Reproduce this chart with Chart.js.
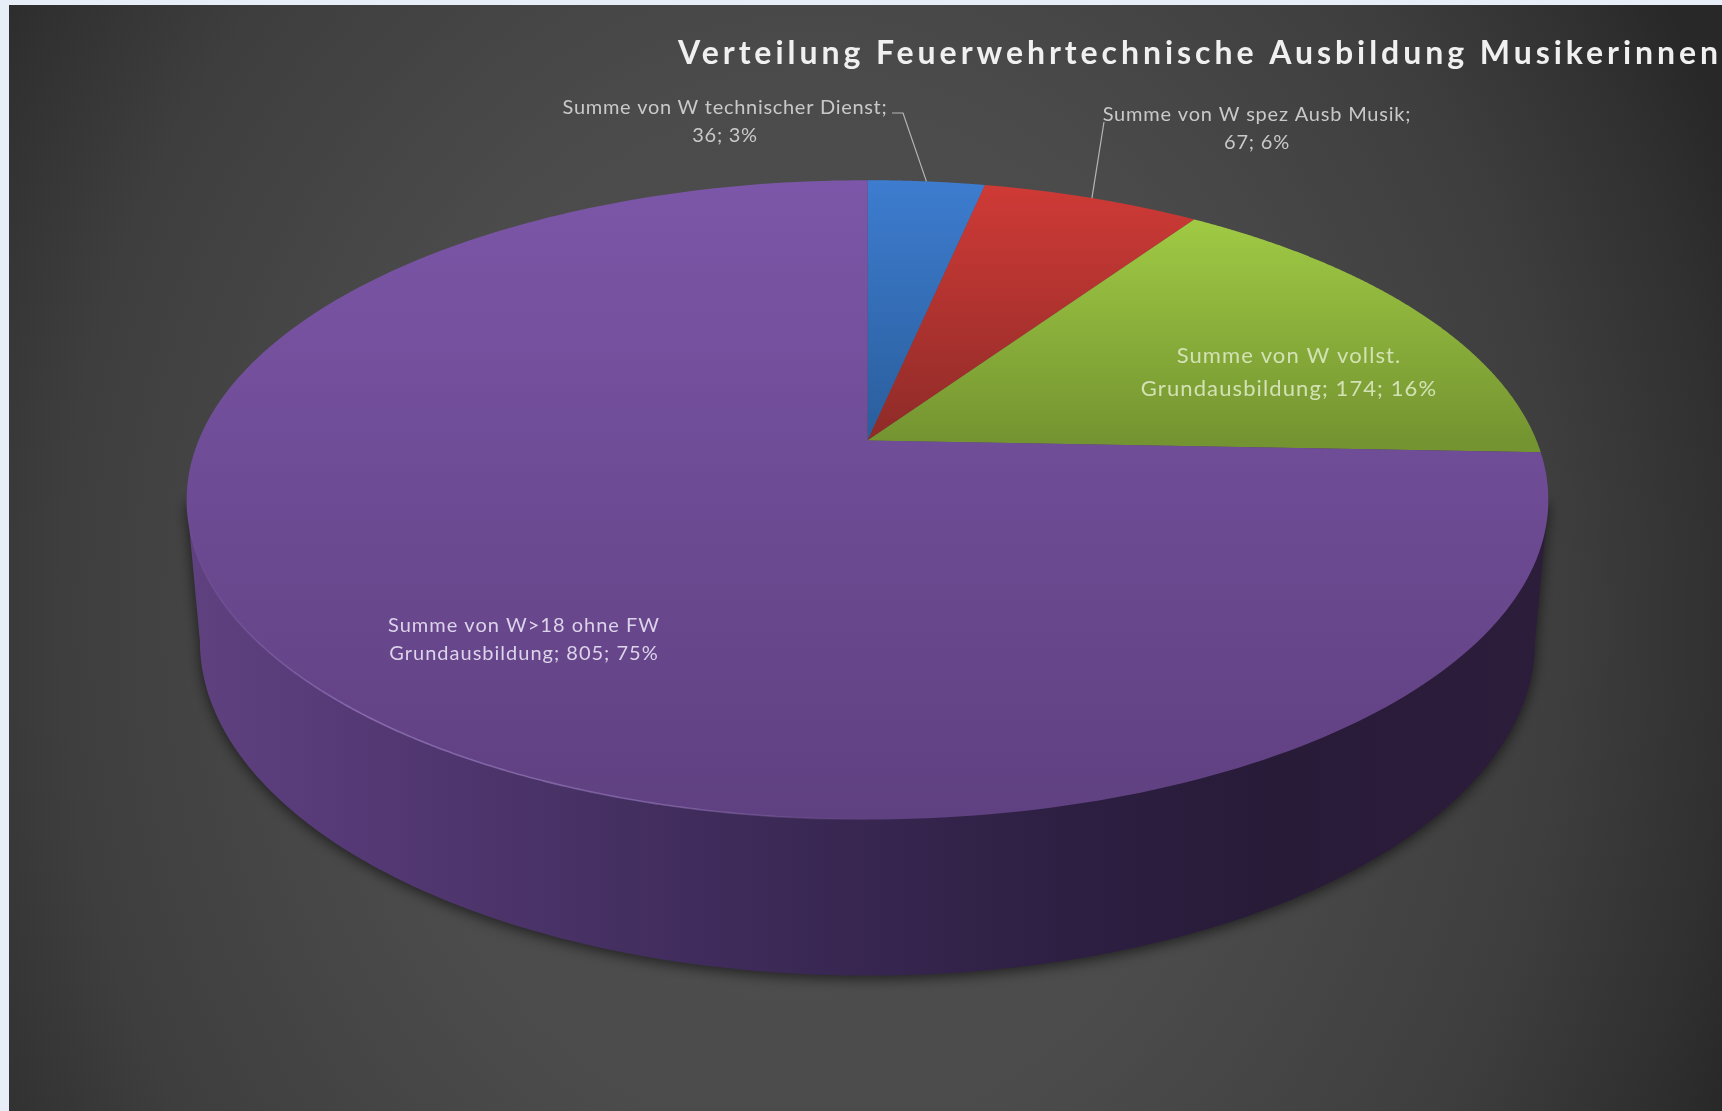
<!DOCTYPE html>
<html lang="de">
<head>
    <meta charset="UTF-8">
    <title>Verteilung Feuerwehrtechnische Ausbildung Musikerinnen</title>
    <style>
        html, body { margin: 0; padding: 0; background: #e8eef8; }
        canvas { display: block; filter: blur(0.6px); }
    </style>
</head>
<body>
    <canvas id="myChart" width="1722" height="1111"></canvas>

    <script src="https://cdn.jsdelivr.net/npm/chart.js@4"></script>
    <script>
const chartTitle = 'Verteilung Feuerwehrtechnische Ausbildung Musikerinnen';
const categories = [
  'Summe von W technischer Dienst',
  'Summe von W spez Ausb Musik',
  'Summe von W vollst. Grundausbildung',
  'Summe von W>18 ohne FW Grundausbildung'
];
const values = [36, 67, 174, 805];
const percents = [3, 6, 16, 75];
const wrapAfter = ['Dienst;', 'Musik;', 'vollst.', 'FW'];

const topColors = ['#3d7ccf', '#cf3a36', '#a0ca44', '#7c56a8'];
const bottomColors = ['#2a5e9c', '#8e2b28', '#749431', '#5f4080'];

// where the label text sits, and the elbow of the leader line if it has one
const labelPlaces = [
  { x: 725, y: 108, gap: 28, size: 20, spacing: 0.7, color: '#c9c9c9', elbow: [[892, 113], [903, 113]] },
  { x: 1257, y: 115, gap: 28, size: 20, spacing: 0.8, color: '#c9c9c9', elbow: [[1104, 122]] },
  { x: 1289, y: 356, gap: 33, size: 22, spacing: 1.1, color: '#d3e2b4' },
  { x: 524, y: 626, gap: 28, size: 20, spacing: 1.0, color: '#dcd4ea' }
];

// view of the tilted pie: a circle seen in perspective
const view = { cx: 867.5, p: 0.1856 };
const topFace = { y0: 440.5, a: 669, b: 308.6 };
const bottomFace = { y0: 579, a: 656, b: 323 };

function project(face, angle) {
  const u = Math.cos(angle), v = Math.sin(angle);
  const w = 1 - view.p * v;
  return [view.cx + face.a * u / w, face.y0 + face.b * v / w];
}

function rimPath(ctx, face, from, to) {
  const steps = 240;
  for (let i = 0; i <= steps; i++) {
    const pt = project(face, from + (to - from) * i / steps);
    ctx.lineTo(pt[0], pt[1]);
  }
}

const tiltedPie = {
  id: 'tiltedPie',
  beforeDraw(chart) {
    const ctx = chart.ctx;
    ctx.save();
    // soft spotlight behind the pie
    ctx.translate(810, 620);
    ctx.scale(1, 1.2);
    const bg = ctx.createRadialGradient(0, 0, 0, 0, 0, 1000);
    bg.addColorStop(0, '#505050');
    bg.addColorStop(0.45, '#4b4b4b');
    bg.addColorStop(0.75, '#3e3e3e');
    bg.addColorStop(0.92, '#303030');
    bg.addColorStop(1, '#282828');
    ctx.fillStyle = bg;
    ctx.fillRect(-900, -700, 1900, 1300);
    ctx.restore();
    ctx.fillStyle = '#e8eef8';
    ctx.fillRect(0, 0, 9, 1111);
    ctx.fillRect(0, 0, 1722, 5);
    ctx.letterSpacing = '3.95px';
  },
  beforeDatasetsDraw(chart) {
    const ctx = chart.ctx;
    ctx.letterSpacing = '0px';
    const arcs = chart.getDatasetMeta(0).data;

    // side wall, from widest point to widest point around the front
    const edge = Math.asin(view.p);
    const wall = ctx.createLinearGradient(190, 0, 1540, 0);
    wall.addColorStop(0, '#5f4180');
    wall.addColorStop(0.1, '#573a78');
    wall.addColorStop(0.25, '#4a3368');
    wall.addColorStop(0.42, '#3d2a58');
    wall.addColorStop(0.65, '#2d1f42');
    wall.addColorStop(0.8, '#281b38');
    wall.addColorStop(1, '#2c1d3b');
    ctx.save();
    ctx.shadowColor = 'rgba(0,0,0,0.6)';
    ctx.shadowBlur = 14;
    ctx.shadowOffsetY = 3;
    ctx.fillStyle = wall;
    ctx.beginPath();
    rimPath(ctx, topFace, Math.PI - edge, Math.PI - edge);
    rimPath(ctx, bottomFace, Math.PI - edge, edge);
    rimPath(ctx, topFace, edge, edge);
    ctx.closePath();
    ctx.fill();
    ctx.restore();

    // top faces, one for each arc of the chart
    arcs.forEach((arc, i) => {
      const isBig = arc.endAngle - arc.startAngle > Math.PI;
      const minY = isBig ? project(topFace, -Math.PI / 2)[1] : Math.min(project(topFace, arc.startAngle)[1], project(topFace, arc.endAngle)[1]);
      const maxY = isBig ? project(topFace, Math.PI / 2)[1] : topFace.y0;
      const fill = ctx.createLinearGradient(0, minY, 0, maxY);
      fill.addColorStop(0, topColors[i]);
      fill.addColorStop(1, bottomColors[i]);
      ctx.fillStyle = fill;
      ctx.beginPath();
      ctx.moveTo(view.cx, topFace.y0);
      rimPath(ctx, topFace, arc.startAngle, arc.endAngle);
      ctx.closePath();
      ctx.fill();
    });

    // light edge along the front left of the rim, fading at both ends
    const glow = ctx.createLinearGradient(190, 0, 880, 0);
    glow.addColorStop(0, 'rgba(170,140,210,0.05)');
    glow.addColorStop(0.25, 'rgba(170,140,210,0.55)');
    glow.addColorStop(0.7, 'rgba(170,140,210,0.45)');
    glow.addColorStop(1, 'rgba(170,140,210,0)');
    ctx.strokeStyle = glow;
    ctx.lineWidth = 1.6;
    ctx.beginPath();
    rimPath(ctx, topFace, Math.PI - 0.2, Math.PI / 2);
    ctx.stroke();

    return false;
  },
  afterDraw(chart) {
    const ctx = chart.ctx;
    const arcs = chart.getDatasetMeta(0).data;
    ctx.save();
    ctx.textAlign = 'center';
    ctx.textBaseline = 'middle';
    categories.forEach((name, i) => {
      const place = labelPlaces[i];
      const text = name + '; ' + values[i] + '; ' + percents[i] + '%';
      const lines = text.replace(wrapAfter[i] + ' ', wrapAfter[i] + '\n').split('\n');
      ctx.font = place.size + 'px Lato';
      ctx.letterSpacing = place.spacing + 'px';
      ctx.fillStyle = place.color;
      lines.forEach((line, n) => ctx.fillText(line, place.x, place.y + n * place.gap));

      if (place.elbow) {
        const mid = (arcs[i].startAngle + arcs[i].endAngle) / 2;
        const end = project(topFace, mid);
        ctx.strokeStyle = '#b5b5b5';
        ctx.lineWidth = 1.2;
        ctx.beginPath();
        place.elbow.forEach(pt => ctx.lineTo(pt[0], pt[1]));
        ctx.lineTo(end[0], end[1]);
        ctx.stroke();
      }
    });
    ctx.restore();
  }
};

const config = {
  type: 'pie',
  data: {
    labels: categories,
    datasets: [{ data: values, backgroundColor: topColors, borderWidth: 0 }]
  },
  options: {
    responsive: false,
    animation: false,
    plugins: {
      legend: { display: false },
      tooltip: { enabled: false },
      title: {
        display: true,
        text: chartTitle,
        align: 'end',
        color: '#f0f0f0',
        padding: { top: 34, bottom: 0 },
        font: { family: 'Lato', size: 32, weight: 'bold' }
      }
    }
  },
  plugins: [tiltedPie]
};

const myChart = new Chart(document.getElementById('myChart'), config);
    </script>
</body>
</html>
